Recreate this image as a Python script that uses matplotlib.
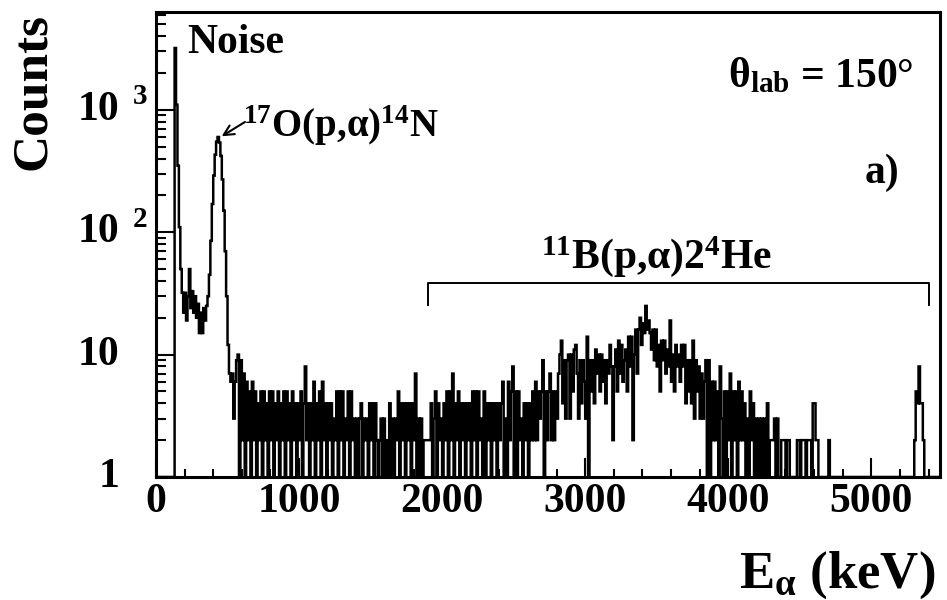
import numpy as np
import matplotlib
matplotlib.use('Agg')
import matplotlib.pyplot as plt
import matplotlib.transforms as mtransforms
from matplotlib.ticker import FixedLocator, NullFormatter, LogLocator

plt.rcParams['font.family'] = ['Liberation Serif', 'DejaVu Serif']
plt.rcParams['font.weight'] = 'bold'
plt.rcParams['mathtext.fontset'] = 'custom'
plt.rcParams['mathtext.rm'] = 'Liberation Serif:bold'
plt.rcParams['mathtext.it'] = 'Liberation Serif:bold'
plt.rcParams['mathtext.bf'] = 'Liberation Serif:bold'
plt.rcParams['mathtext.default'] = 'rm'

# ---------------- data (10 keV bins) ----------------
bin_width_kev = 10
counts_0000_0990 = [
    0, 0, 0, 0, 0, 0, 0, 0, 0, 0,
    0, 0, 0, 3200, 1100, 350, 110, 50, 32, 22,
    32, 19, 30, 50, 24, 33, 22, 30, 20, 26,
    15, 22, 15, 24, 19, 25, 30, 45, 85, 170,
    290, 430, 550, 600, 540, 420, 270, 150, 70, 30,
    12, 7, 6, 7, 3, 6, 9, 10, 1, 9,
    2, 7, 1, 6, 2, 5, 1, 6, 2, 5,
    1, 4, 2, 5, 0, 5, 2, 4, 1, 5,
    2, 5, 1, 4, 2, 5, 0, 4, 2, 5,
    1, 5, 2, 4, 1, 5, 2, 4, 0, 4,
]
counts_1000_1990 = [
    2, 5, 1, 4, 8, 2, 4, 1, 4, 2,
    6, 1, 4, 2, 5, 1, 6, 2, 4, 1,
    4, 2, 4, 1, 3, 2, 5, 1, 5, 2,
    5, 0, 3, 2, 5, 1, 5, 2, 3, 1,
    3, 1, 3, 4, 1, 3, 2, 3, 1, 4,
    2, 4, 1, 4, 2, 0, 2, 3, 1, 3,
    1, 2, 1, 4, 0, 3, 1, 3, 2, 5,
    1, 4, 2, 4, 1, 4, 2, 4, 1, 4,
    2, 7, 1, 3, 0, 3, 1, 2, 2, 2,
    2, 2, 4, 1, 3, 5, 1, 4, 2, 3,
]
counts_2000_2990 = [
    1, 4, 2, 5, 1, 5, 2, 7, 1, 4,
    2, 5, 1, 4, 2, 4, 1, 4, 2, 4,
    1, 5, 2, 5, 1, 5, 2, 3, 1, 5,
    0, 4, 2, 4, 1, 4, 2, 4, 1, 4,
    2, 4, 6, 0, 3, 1, 6, 2, 5, 8,
    1, 5, 0, 5, 2, 3, 1, 4, 2, 4,
    1, 4, 2, 5, 2, 6, 2, 5, 3, 5,
    9, 1, 5, 2, 5, 7, 2, 5, 2, 5,
    3, 7, 10, 13, 4, 9, 3, 9, 10, 3,
    10, 5, 11, 12, 7, 3, 9, 4, 9, 6,
]
counts_3000_3990 = [
    3, 14, 0, 9, 5, 9, 4, 11, 7, 10,
    5, 10, 6, 9, 4, 9, 7, 12, 8, 2,
    8, 11, 5, 13, 7, 12, 6, 9, 11, 5,
    14, 8, 14, 2, 10, 16, 7, 16, 20, 12,
    18, 15, 25, 16, 19, 15, 11, 16, 9, 16,
    8, 12, 5, 13, 9, 13, 7, 11, 8, 19,
    6, 10, 5, 12, 8, 10, 6, 12, 8, 12,
    4, 9, 5, 9, 4, 13, 3, 9, 5, 8,
    3, 7, 3, 6, 9, 1, 9, 0, 6, 2,
    6, 2, 5, 1, 8, 3, 1, 5, 0, 5,
]
counts_4000_4990 = [
    2, 7, 1, 5, 2, 5, 1, 6, 2, 5,
    2, 4, 0, 3, 1, 5, 2, 4, 1, 3,
    0, 3, 1, 3, 0, 3, 1, 4, 0, 2,
    2, 2, 3, 0, 3, 0, 1, 2, 2, 2,
    0, 2, 2, 0, 0, 0, 1, 0, 2, 2,
    0, 2, 2, 2, 0, 2, 2, 2, 0, 4,
    4, 2, 2, 0, 0, 0, 1, 0, 0, 0,
    2, 0, 0, 0, 0, 1, 0, 0, 0, 0,
    0, 0, 0, 1, 0, 0, 0, 0, 0, 0,
    0, 0, 0, 0, 0, 0, 1, 0, 0, 0,
]
counts_5000_5470 = [
    0, 0, 0, 0, 0, 0, 0, 0, 0, 0,
    0, 0, 0, 0, 0, 0, 0, 0, 0, 0,
    0, 0, 0, 0, 0, 0, 0, 0, 0, 0,
    2, 5, 4, 8, 4, 4, 2, 0, 0, 0,
    0, 0, 0, 0, 0, 0, 0, 0,
]

x_major_ticks = [0, 1000, 2000, 3000, 4000, 5000]
y_major_ticks = [1, 10, 100, 1000]
y_tick_labels = [('1', None), ('10', None), ('10', '2'), ('10', '3')]
boron_range_kev = (1900, 5400)

counts = np.array(counts_0000_0990 + counts_1000_1990 + counts_2000_2990 +
                  counts_3000_3990 + counts_4000_4990 + counts_5000_5470, dtype=float)
edges = np.arange(len(counts) + 1) * bin_width_kev

# ---------------- figure ----------------
W, H = 947, 600
fig = plt.figure(figsize=(W / 100, H / 100), dpi=100)
L, R, T, B = 156, 940, 12, 477
ax = fig.add_axes([L / W, 1 - B / H, (R - L) / W, (B - T) / H])

ax.stairs(np.maximum(counts, 1), edges, color='black', lw=1.8, baseline=None)
ax.set_yscale('log')
ax.set_xlim(0, 5480)
ax.set_ylim(1, 6300)

for s in ax.spines.values():
    s.set_linewidth(2.2)

ax.xaxis.set_major_locator(FixedLocator(x_major_ticks))
ax.xaxis.set_minor_locator(FixedLocator(np.arange(0, 5481, 200)))
ax.yaxis.set_major_locator(FixedLocator(y_major_ticks))
ax.yaxis.set_minor_locator(LogLocator(base=10, subs=np.arange(2, 10), numticks=30))
ax.yaxis.set_major_formatter(NullFormatter())
ax.yaxis.set_minor_formatter(NullFormatter())
ax.tick_params(axis='x', which='major', direction='in', length=14, width=1.5,
               labelsize=30, pad=4.5)
ax.tick_params(axis='x', which='minor', direction='in', length=6, width=1.5)
ax.tick_params(axis='y', which='major', direction='in', length=13, width=1.5)
ax.tick_params(axis='y', which='minor', direction='in', length=7, width=1.5)
for lab in ax.get_xticklabels():
    lab.set_fontweight('bold')

# y tick labels drawn manually (ROOT style "10 2")
ytr = mtransforms.blended_transform_factory(fig.transFigure, ax.transData)
ytr_sup = mtransforms.offset_copy(ytr, fig=fig, x=0, y=13, units='dots')
for val, (base, exp) in zip(y_major_ticks, y_tick_labels):
    ax.text(119 / W, val, base, transform=ytr, ha='right', va='center',
            fontsize=30, fontweight='bold', clip_on=False)
    if exp:
        ax.text(133 / W, val, exp, transform=ytr_sup, ha='left', va='center',
                fontsize=21, fontweight='bold', clip_on=False)

def px(x, y):
    return x / W, 1 - y / H

fig.text(*px(33, 92), 'Counts', rotation=90, ha='center', va='center',
         fontsize=37, fontweight='bold')
fig.text(*px(935, 588), 'E$_{α}$ (keV)', ha='right', va='baseline',
         fontsize=38, fontweight='bold')

fig.text(*px(187, 53), 'Noise', ha='left', va='baseline', fontsize=30, fontweight='bold')
fig.text(*px(243, 137), '$^{17}$O(p,α)$^{14}$N', ha='left', va='baseline',
         fontsize=28, fontweight='bold')
fig.text(*px(728, 87), 'θ$_{lab}$ = 150°', ha='left', va='baseline',
         fontsize=30, fontweight='bold')
fig.text(*px(865, 183), 'a)', ha='left', va='baseline', fontsize=30, fontweight='bold')
fig.text(*px(541, 268), '$^{11}$B(p,α)2$^{4}$He', ha='left', va='baseline',
         fontsize=30, fontweight='bold')

# bracket over the 11B(p,a) region
btr = mtransforms.blended_transform_factory(ax.transData, ax.transAxes)
y_top = (B - 283) / (B - T)
y_bot = (B - 305) / (B - T)
ax.plot([boron_range_kev[0], boron_range_kev[0], boron_range_kev[1], boron_range_kev[1]],
        [y_bot, y_top, y_top, y_bot], transform=btr, color='black', lw=1.4,
        clip_on=False)

# arrow to the 17O peak
ax.annotate('', xy=(459, 608), xytext=(622, 796),
            arrowprops=dict(arrowstyle='->', lw=1.5, color='black',
                            shrinkA=0, shrinkB=0, mutation_scale=18))

fig.savefig('out.png', dpi=100)
